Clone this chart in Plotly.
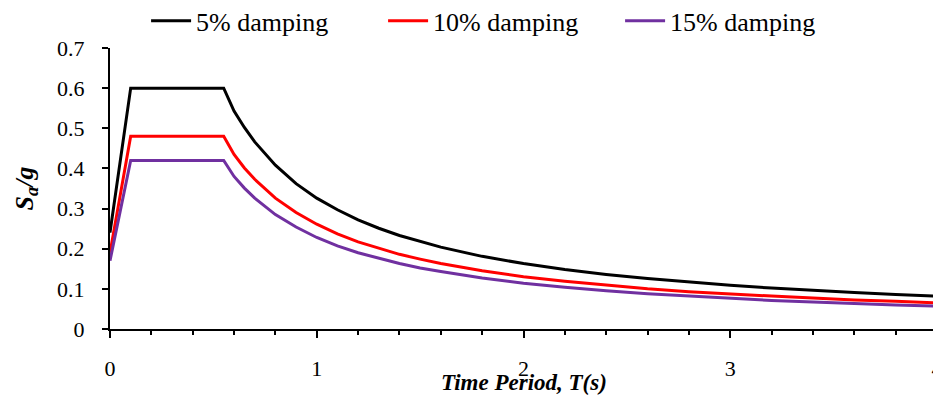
import plotly.graph_objects as go

# Time period T (s)
period = [0, 0.1, 0.55, 0.6, 0.65, 0.7, 0.8, 0.9, 1.0, 1.1, 1.2, 1.3, 1.4, 1.5, 1.6,
          1.8, 2.0, 2.2, 2.4, 2.6, 2.8, 3.0, 3.2, 3.4, 3.6, 3.8, 4.0]

sa_5 = [0.24, 0.60, 0.60, 0.543, 0.502, 0.466, 0.408, 0.362, 0.326, 0.297, 0.272, 0.251,
        0.233, 0.218, 0.204, 0.181, 0.163, 0.148, 0.136, 0.126, 0.117, 0.109, 0.102,
        0.096, 0.091, 0.086, 0.082]
sa_10 = [0.19, 0.48, 0.48, 0.435, 0.401, 0.373, 0.326, 0.290, 0.261, 0.237, 0.217, 0.201,
         0.186, 0.174, 0.163, 0.145, 0.130, 0.119, 0.109, 0.100, 0.093, 0.087, 0.082,
         0.077, 0.072, 0.069, 0.065]
sa_15 = [0.17, 0.42, 0.42, 0.380, 0.351, 0.326, 0.285, 0.254, 0.228, 0.207, 0.190, 0.176,
         0.163, 0.152, 0.143, 0.127, 0.114, 0.104, 0.095, 0.088, 0.082, 0.076, 0.071,
         0.067, 0.063, 0.060, 0.057]

series_names = ["5% damping", "10% damping", "15% damping"]
series_colors = ["#000000", "#FF0000", "#7030A0"]

x_tickvals = [0, 1, 2, 3, 4]
x_ticktext = ["0", "1", "2", "3", "4"]
y_tickvals = [0, 0.1, 0.2, 0.3, 0.4, 0.5, 0.6, 0.7]
y_ticktext = ["0", "0.1", "0.2", "0.3", "0.4", "0.5", "0.6", "0.7"]

FONT = "'Liberation Serif', 'Times New Roman', Tinos, 'DejaVu Serif', serif"

fig = go.Figure()
for name, ys, col in zip(series_names, [sa_5, sa_10, sa_15], series_colors):
    fig.add_trace(go.Scatter(x=period, y=ys, mode="lines", name=name,
                             line=dict(color=col, width=3)))

# page body has an 8px margin, so the figure is sized 8px smaller
fig.update_layout(
    width=933, height=392,
    margin=dict(l=102, r=4, t=40, b=71, autoexpand=False),
    paper_bgcolor="white", plot_bgcolor="white",
    font=dict(family=FONT, size=22, color="black"),
    showlegend=True,
    legend=dict(orientation="h", xref="container", yref="container",
                x=0.148, y=0.967, xanchor="left", yanchor="middle",
                font=dict(family=FONT, size=26, color="black"),
                itemwidth=40, tracegroupgap=0, entrywidth=182),
)

fig.update_xaxes(
    range=[0, 4], tickvals=x_tickvals, ticktext=x_ticktext, automargin=False,
    showgrid=False, zeroline=False, ticklabeloverflow="allow", ticklabelstandoff=12,
    showline=True, linecolor="black", linewidth=2,
    ticks="outside", ticklen=7, tickwidth=2, tickcolor="black",
    tickfont=dict(family=FONT, size=22),
    minor=dict(dtick=0.2, ticks="outside", ticklen=4, tickwidth=2, tickcolor="black", showgrid=False),
)
fig.update_yaxes(
    range=[0, 0.7], tickvals=y_tickvals, ticktext=y_ticktext, automargin=False,
    showgrid=False, zeroline=False, ticklabelstandoff=13,
    showline=True, linecolor="black", linewidth=2,
    ticks="outside", ticklen=6, tickwidth=2, tickcolor="black",
    tickfont=dict(family=FONT, size=22),
    title=dict(text="<b><i>S<sub>a</sub>/g</i></b>", font=dict(family=FONT, size=26), standoff=16),
)

fig.add_annotation(
    text="<b><i>Time Period, T(s)</i></b>", xref="paper", yref="paper",
    x=0.5, y=0, yanchor="middle", yshift=-53, showarrow=False,
    font=dict(family=FONT, size=23, color="black"),
)

fig.write_html("out.html")
